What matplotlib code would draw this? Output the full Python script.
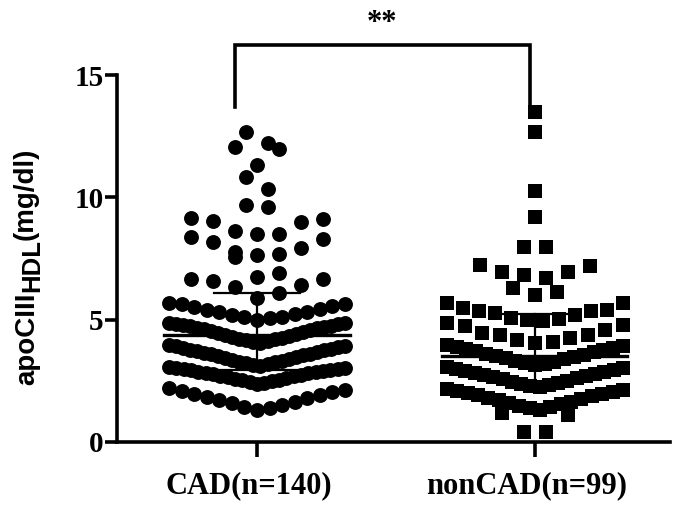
import numpy as np
import matplotlib
matplotlib.use("Agg")
import matplotlib.pyplot as plt
from matplotlib.transforms import ScaledTranslation

# values (mg/dl)
cad = [12.69, 12.24, 12.04, 11.97, 11.31, 10.85, 10.36, 9.67, 9.62,
       9.15, 9.10, 9.02, 8.99, 8.63, 8.50, 8.50, 8.39, 8.28, 8.18,
       7.94, 7.77, 7.70, 7.64, 7.55, 6.91, 6.75, 6.67, 6.65, 6.57,
       6.43, 6.35, 6.10, 5.90, 5.70,
       5.00, 5.05, 5.10, 5.12, 5.19, 5.22, 5.30, 5.33, 5.41, 5.44, 5.52, 5.56, 5.63, 5.66,
       4.05, 4.08, 4.12, 4.15, 4.20, 4.22, 4.27, 4.30, 4.35, 4.38, 4.42, 4.45, 4.50,
       4.53, 4.57, 4.60, 4.64, 4.67, 4.70, 4.73, 4.76, 4.79, 4.82, 4.84, 4.86, 4.88,
       3.12, 3.15, 3.18, 3.22, 3.26, 3.29, 3.33, 3.36, 3.40, 3.43, 3.47, 3.50, 3.54,
       3.58, 3.61, 3.64, 3.68, 3.71, 3.75, 3.78, 3.82, 3.85, 3.88, 3.91, 3.94, 3.97,
       2.38, 2.42, 2.45, 2.49, 2.52, 2.55, 2.58, 2.62, 2.65, 2.68, 2.71, 2.74, 2.77,
       2.80, 2.83, 2.86, 2.88, 2.91, 2.93, 2.96, 2.98, 3.00, 3.02, 3.04, 3.06,
       1.31, 1.38, 1.45, 1.52, 1.58, 1.65, 1.72, 1.78, 1.85, 1.91, 1.97, 2.03, 2.08, 2.14, 2.19]

noncad = [13.47, 12.65, 10.26, 9.19, 7.98, 7.98, 7.23, 7.18, 6.95, 6.95, 6.84, 6.71,
          6.30, 6.12, 6.02,
          5.68, 5.68, 5.48, 5.41, 5.34, 5.34, 5.28, 5.20, 5.08, 5.04, 5.00, 4.93,
          4.88, 4.80, 4.73, 4.59, 4.47, 4.39, 4.39, 4.26, 4.18, 4.10, 4.06,
          3.14, 3.19, 3.23, 3.28, 3.33, 3.38, 3.42, 3.47, 3.52, 3.56, 3.61, 3.66, 3.70,
          3.75, 3.79, 3.84, 3.88, 3.93, 3.97,
          2.24, 2.28, 2.33, 2.38, 2.42, 2.47, 2.51, 2.56, 2.60, 2.65, 2.69, 2.74, 2.78,
          2.83, 2.87, 2.91, 2.95, 2.99, 3.03, 3.07,
          1.32, 1.37, 1.43, 1.48, 1.54, 1.59, 1.65, 1.70, 1.76, 1.81, 1.86, 1.91, 1.96,
          2.01, 2.06, 2.10, 2.14, 2.18,
          1.19, 1.10, 0.42, 0.42]

# median and interquartile range as drawn
cad_stats = [2.95, 4.36, 6.09]
noncad_stats = [2.45, 3.52, 5.23]

groups = ["CAD(n=140)", "nonCAD(n=99)"]
sig_label = "**"

PX_PER_X = 278.0   # pixels per x unit
BIN_H = 0.9
BIN_0 = 0.4


def swarm_x(vals, center, max_step=22.0, max_span=176.0):
    # GraphPad-like scatter: points binned by value, lowest in the middle
    vals = np.asarray(vals, dtype=float)
    xs = np.empty(len(vals))
    bins = np.floor((vals - BIN_0) / BIN_H)
    for b in np.unique(bins):
        idx = np.where(bins == b)[0]
        idx = idx[np.argsort(vals[idx], kind="stable")]
        n = len(idx)
        step = min(max_step, max_span / max(n - 1, 1)) / PX_PER_X
        for j, i in enumerate(idx):
            if n % 2:
                k = (j + 1) // 2 * (1 if j % 2 else -1)
            else:
                k = (j // 2 + 0.5) * (1 if j % 2 == 0 else -1)
            xs[i] = center + k * step
    return xs


fig = plt.figure(figsize=(6.75, 5.21), dpi=100)
ax = fig.add_axes([117 / 675, 79 / 521, 553 / 675, 367 / 521])

ax.scatter(swarm_x(cad, 1), cad, s=115, marker='o', color='black', linewidths=0, zorder=2)
ax.scatter(swarm_x(noncad, 2), noncad, s=95, marker='s', color='black', linewidths=0, zorder=2)

for pos, st in zip([1, 2], [cad_stats, noncad_stats]):
    lo, med, hi = st
    ax.plot([pos - 0.333, pos + 0.333], [med, med], color='black', lw=2.4, zorder=3)
    ax.plot([pos, pos], [lo, hi], color='black', lw=1.6, zorder=3)
    for v in (lo, hi):
        ax.plot([pos - 0.155, pos + 0.155], [v, v], color='black', lw=1.6, zorder=3)

# significance bracket
ax.plot([0.921, 0.921, 1.982, 1.982], [13.7, 16.24, 16.24, 13.7], color='black',
        lw=2.6, clip_on=False, solid_joinstyle='miter')
ax.text(1.451, 17.1, sig_label, ha='center', va='center', fontsize=22,
        family='Liberation Serif', fontweight='bold')

ax.set_xlim(0.4964, 2.486)
ax.set_ylim(0, 15)
ax.spines['top'].set_visible(False)
ax.spines['right'].set_visible(False)
for sp in ('left', 'bottom'):
    ax.spines[sp].set_linewidth(2.6)
ax.spines['left'].set_bounds(0, 15)

ax.set_yticks([0, 5, 10, 15])
ax.set_xticks([1, 2])
ax.set_xticklabels(groups)
ax.tick_params(axis='y', length=8.5, width=2.6, pad=1)
ax.tick_params(axis='x', length=11, width=2.6, pad=10)
for lab in ax.get_yticklabels() + ax.get_xticklabels():
    lab.set_family('Liberation Serif')
    lab.set_fontweight('bold')
    lab.set_fontsize(21)
for lab in ax.get_xticklabels():
    lab.set_fontsize(22)
    lab.set_transform(lab.get_transform() + ScaledTranslation(-8 / 100, 0, fig.dpi_scale_trans))

# y label built from pieces so the subscript can keep its size
renderer = fig.canvas.get_renderer()
ypos = 136.0
for txt, size, xb in [("apoCIII", 20, 34), ("HDL", 18.5, 39), ("(mg/dl)", 20, 33)]:
    t = fig.text(xb / 675, ypos / 521, txt, rotation=90, rotation_mode='anchor',
                 ha='left', va='baseline', fontsize=size,
                 family='Liberation Sans', fontweight='bold')
    ypos += t.get_window_extent(renderer).height

fig.savefig("out.png", dpi=100)
